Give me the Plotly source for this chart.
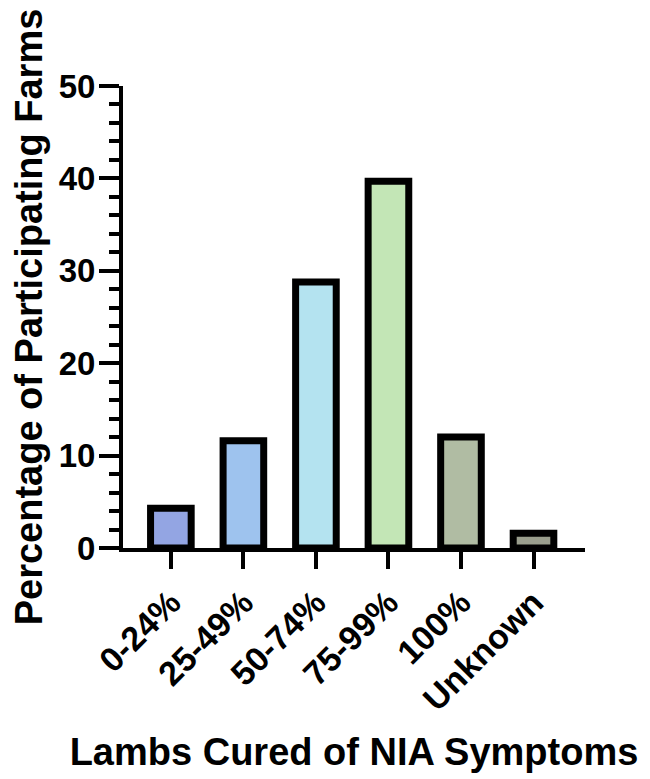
import plotly.graph_objects as go

categories = ["0-24%", "25-49%", "50-74%", "75-99%", "100%", "Unknown"]
values = [4.3, 11.6, 28.8, 39.7, 12.0, 1.6]
bar_colors = ["#93a5e3", "#9ec3ee", "#b4e3f0", "#c3e6b6", "#b0bca3", "#9a9e8d"]

font_family = "Arial, Liberation Sans, sans-serif"

fig = go.Figure()
fig.add_trace(go.Bar(
    x=categories,
    y=values,
    width=0.56,
    marker=dict(color=bar_colors, line=dict(color="black", width=7)),
))

# page body has an 8px margin, so the figure is shrunk by that much
fig.update_layout(
    width=642, height=771,
    margin=dict(l=113, r=65, t=78, b=231),
    plot_bgcolor="white", paper_bgcolor="white",
    showlegend=False,
    font=dict(family=font_family, color="black", weight="bold"),
)

fig.update_xaxes(
    range=[-0.66, 5.71],
    showline=True, linecolor="black", linewidth=4,
    ticks="outside", ticklen=17, tickwidth=4, tickcolor="black",
    tickangle=-45, tickfont=dict(size=34, weight="bold"),
    showgrid=False, zeroline=False,
    title=dict(text="Lambs Cured of NIA Symptoms", font=dict(size=38, weight="bold"), standoff=22),
)
fig.update_yaxes(
    range=[0, 50], dtick=10,
    showline=True, linecolor="black", linewidth=4,
    ticks="outside", ticklen=20, tickwidth=4, tickcolor="black",
    minor=dict(dtick=2, ticks="outside", ticklen=10, tickwidth=4, tickcolor="black"),
    tickfont=dict(size=33, weight="bold"), ticklabelstandoff=-3,
    showgrid=False, zeroline=False,
    title=dict(text="Percentage of Participating Farms", font=dict(size=38, weight="bold"), standoff=12),
)

fig.write_html("out.html")
